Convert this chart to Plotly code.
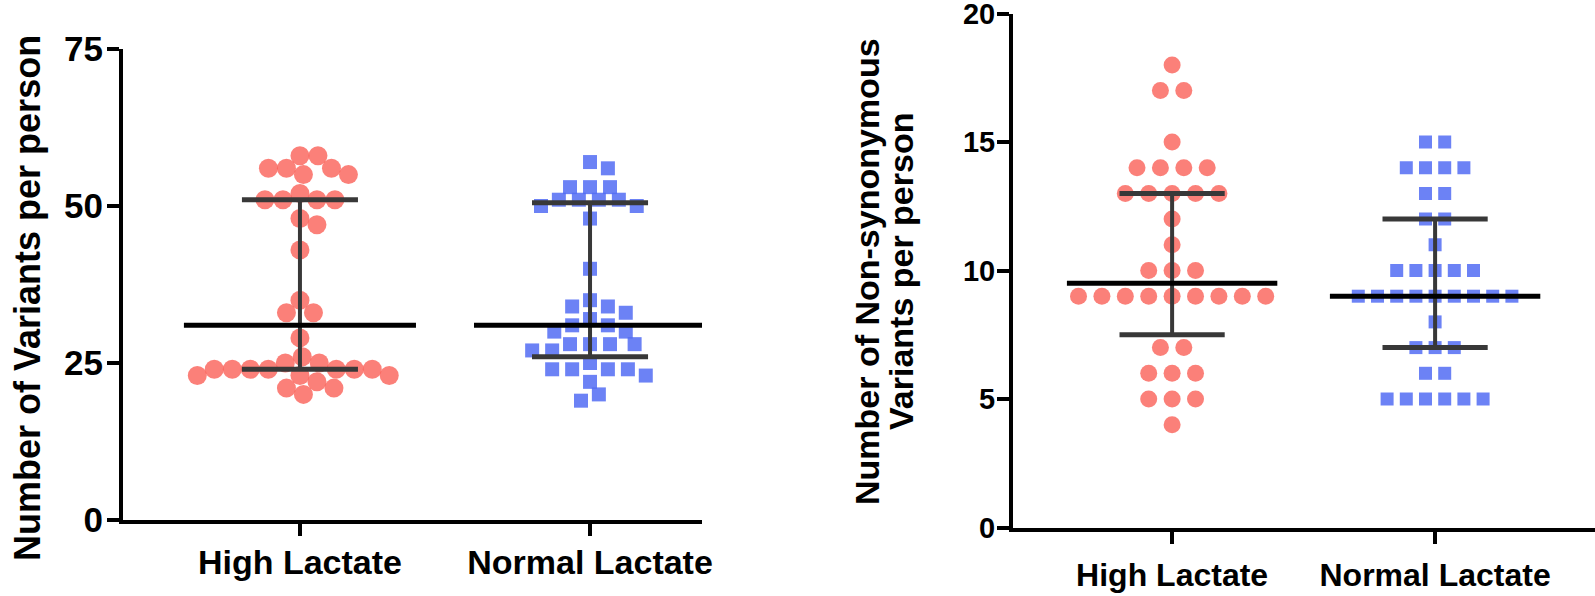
import numpy as np
import plotly.graph_objects as go

# ---------------- data ----------------
categories = ["High Lactate", "Normal Lactate"]

# Panel A: Number of Variants per person
high_variants = [58, 58, 56, 56, 56, 55, 55, 52, 51, 51, 51, 51, 48, 47, 43, 35, 33, 33,
                 29, 26, 25, 25, 24, 24, 24, 24, 24, 24, 24, 23, 23, 23, 22, 21, 21, 20]
normal_variants = [57, 56, 53, 53, 53, 51, 51, 51, 51, 50, 50, 48, 40, 35, 34, 34, 33, 32,
                   31, 31, 30, 30, 28, 28, 28, 28, 27, 27, 25, 24, 24, 24, 24, 23, 22, 20, 19]
variants_median = [31, 31]
variants_q1 = [24, 26]
variants_q3 = [51, 50.5]

# Panel B: Number of Non-synonymous Variants per person
high_nonsyn = [18, 17, 17, 15, 14, 14, 14, 14, 13, 13, 13, 13, 13, 12, 11, 10, 10, 10,
               9, 9, 9, 9, 9, 9, 9, 9, 9, 7, 7, 6, 6, 6, 5, 5, 5, 4]
normal_nonsyn = [15, 15, 14, 14, 14, 14, 13, 13, 12, 12, 11, 10, 10, 10, 10, 10,
                 9, 9, 9, 9, 9, 9, 9, 9, 9, 8, 7, 7, 7, 6, 6, 5, 5, 5, 5, 5, 5]
nonsyn_median = [9.5, 9]
nonsyn_q1 = [7.5, 7]
nonsyn_q3 = [13, 12]

# ---------------- layout geometry ----------------
W, H = 1595, 596
L_X0, L_X1 = 123, 702          # left x-axis extent (px)
L_Y0, L_Y1 = 520, 49           # left y-axis extent (px): value 0 and 75
R_X0, R_X1 = 1013, 1595
R_Y0, R_Y1 = 527.5, 13.5
L_XR = [-0.610, 1.386]
R_XR = [-0.605, 1.608]
L_PPX = (L_X1 - L_X0) / (L_XR[1] - L_XR[0])
R_PPX = (R_X1 - R_X0) / (R_XR[1] - R_XR[0])
L_PPY = (L_Y0 - L_Y1) / 75.0
R_PPY = (R_Y0 - R_Y1) / 20.0

RED = "rgba(250,96,88,0.80)"
BLUE = "rgba(82,108,243,0.85)"
BAR = "#383838"
FONT = "Liberation Sans, Arial, Helvetica, sans-serif"


def swarm(values, ppx, ppy, dx_, dy_, descending=False):
    """Beeswarm offsets (data units along x) with elliptical collision, computed from values."""
    vals = np.asarray(values, float)
    ypx = vals * ppy
    order = np.argsort(-vals if descending else vals, kind="stable")
    placed = []
    off = np.zeros(len(vals))

    def ok(c, y):
        for (xj, yj) in placed:
            if ((c - xj) / dx_) ** 2 + ((y - yj) / dy_) ** 2 < 1 - 1e-6:
                return False
        return True

    for i in order:
        y = ypx[i]
        cands = [0.0]
        for (xj, yj) in placed:
            dy = abs(y - yj)
            if dy < dy_:
                d = dx_ * np.sqrt(1 - (dy / dy_) ** 2)
                cands += [xj - d, xj + d]
        cands = sorted(set(round(c, 6) for c in cands), key=lambda c: (abs(c), -c))
        for c in cands:
            if ok(c, y):
                placed.append((c, y))
                off[i] = c / ppx
                break
    return off


def rows(values, ppx, step):
    """Centered rows for identical values."""
    vals = np.asarray(values, float)
    off = np.zeros(len(vals))
    for v in np.unique(vals):
        idx = np.where(vals == v)[0]
        n = len(idx)
        for k, i in enumerate(idx):
            off[i] = (k - (n - 1) / 2) * step / ppx
    return off


fig = go.Figure()


def add_group(xref, yref, xpos, vals, off, symbol, color, size):
    fig.add_trace(go.Scatter(
        x=xpos + off, y=vals, mode="markers", xaxis=xref, yaxis=yref,
        marker=dict(symbol=symbol, color=color, size=size, line=dict(width=0)),
        showlegend=False, hoverinfo="skip"))


def add_stats(xref, yref, med, q1, q3):
    for i in range(len(med)):
        fig.add_trace(go.Scatter(x=[i, i], y=[q1[i], q3[i]], mode="lines", xaxis=xref, yaxis=yref,
                                 line=dict(color=BAR, width=4), showlegend=False, hoverinfo="skip"))
        for q in (q1[i], q3[i]):
            fig.add_trace(go.Scatter(x=[i - 0.2, i + 0.2], y=[q, q], mode="lines", xaxis=xref, yaxis=yref,
                                     line=dict(color=BAR, width=5), showlegend=False, hoverinfo="skip"))
        fig.add_trace(go.Scatter(x=[i - 0.4, i + 0.4], y=[med[i], med[i]], mode="lines", xaxis=xref,
                                 yaxis=yref, line=dict(color="black", width=5),
                                 showlegend=False, hoverinfo="skip"))


# left panel
add_group("x", "y", 0, high_variants,
          swarm(high_variants, L_PPX, L_PPY, 18, 19, descending=True), "circle", RED, 19)
add_group("x", "y", 1, normal_variants,
          swarm(normal_variants, L_PPX, L_PPY, 20, 14, descending=True), "square", BLUE, 14)
add_stats("x", "y", variants_median, variants_q1, variants_q3)

# right panel
add_group("x2", "y2", 0, high_nonsyn, rows(high_nonsyn, R_PPX, 23.4), "circle", RED, 17)
add_group("x2", "y2", 1, normal_nonsyn, rows(normal_nonsyn, R_PPX, 19.2), "square", BLUE, 13)
add_stats("x2", "y2", nonsyn_median, nonsyn_q1, nonsyn_q3)

axis_common = dict(showline=True, linecolor="black", linewidth=4, ticks="outside",
                   tickcolor="black", tickwidth=4, ticklen=12, showgrid=False, zeroline=False,
                   fixedrange=True, automargin=False, ticklabeloverflow="allow")

fig.update_layout(
    template="none",
    width=W, height=H, margin=dict(l=0, r=0, t=0, b=0, autoexpand=False),
    paper_bgcolor="white", plot_bgcolor="white",
    font=dict(family=FONT, color="black"),
    xaxis=dict(domain=[L_X0 / W, L_X1 / W], range=L_XR, tickvals=[0, 1], ticktext=categories,
               tickfont=dict(size=34, weight="bold"), ticklabelstandoff=-3, anchor="y", **axis_common),
    yaxis=dict(domain=[(H - L_Y0) / H, (H - L_Y1) / H], range=[0, 75], tickvals=[0, 25, 50, 75],
               tickfont=dict(size=35, weight="bold"), ticklabelstandoff=-3, anchor="x", **axis_common),
    xaxis2=dict(domain=[R_X0 / W, R_X1 / W], range=R_XR, tickvals=[0, 1], ticktext=categories,
                tickfont=dict(size=32, weight="bold"), ticklabelstandoff=4, anchor="y2", **axis_common),
    yaxis2=dict(domain=[(H - R_Y0) / H, (H - R_Y1) / H], range=[0, 20], tickvals=[0, 5, 10, 15, 20],
                tickfont=dict(size=29, weight="bold"), ticklabelstandoff=-4, anchor="x2", **axis_common),
)

ann = dict(xref="paper", yref="paper", showarrow=False, textangle=-90,
           xanchor="center", yanchor="middle")
fig.add_annotation(x=27 / W, y=(H - 298) / H, text="<b>Number of Variants per person</b>",
                   font=dict(size=36, family=FONT, color="black"), **ann)
fig.add_annotation(x=867 / W, y=(H - 272) / H, text="<b>Number of Non-synonymous</b>",
                   font=dict(size=34, family=FONT, color="black"), **ann)
fig.add_annotation(x=901 / W, y=(H - 272) / H, text="<b>Variants per person</b>",
                   font=dict(size=34, family=FONT, color="black"), **ann)

fig.write_html("out.html", config={"displayModeBar": False},
               post_script="document.body.style.margin='0';")
